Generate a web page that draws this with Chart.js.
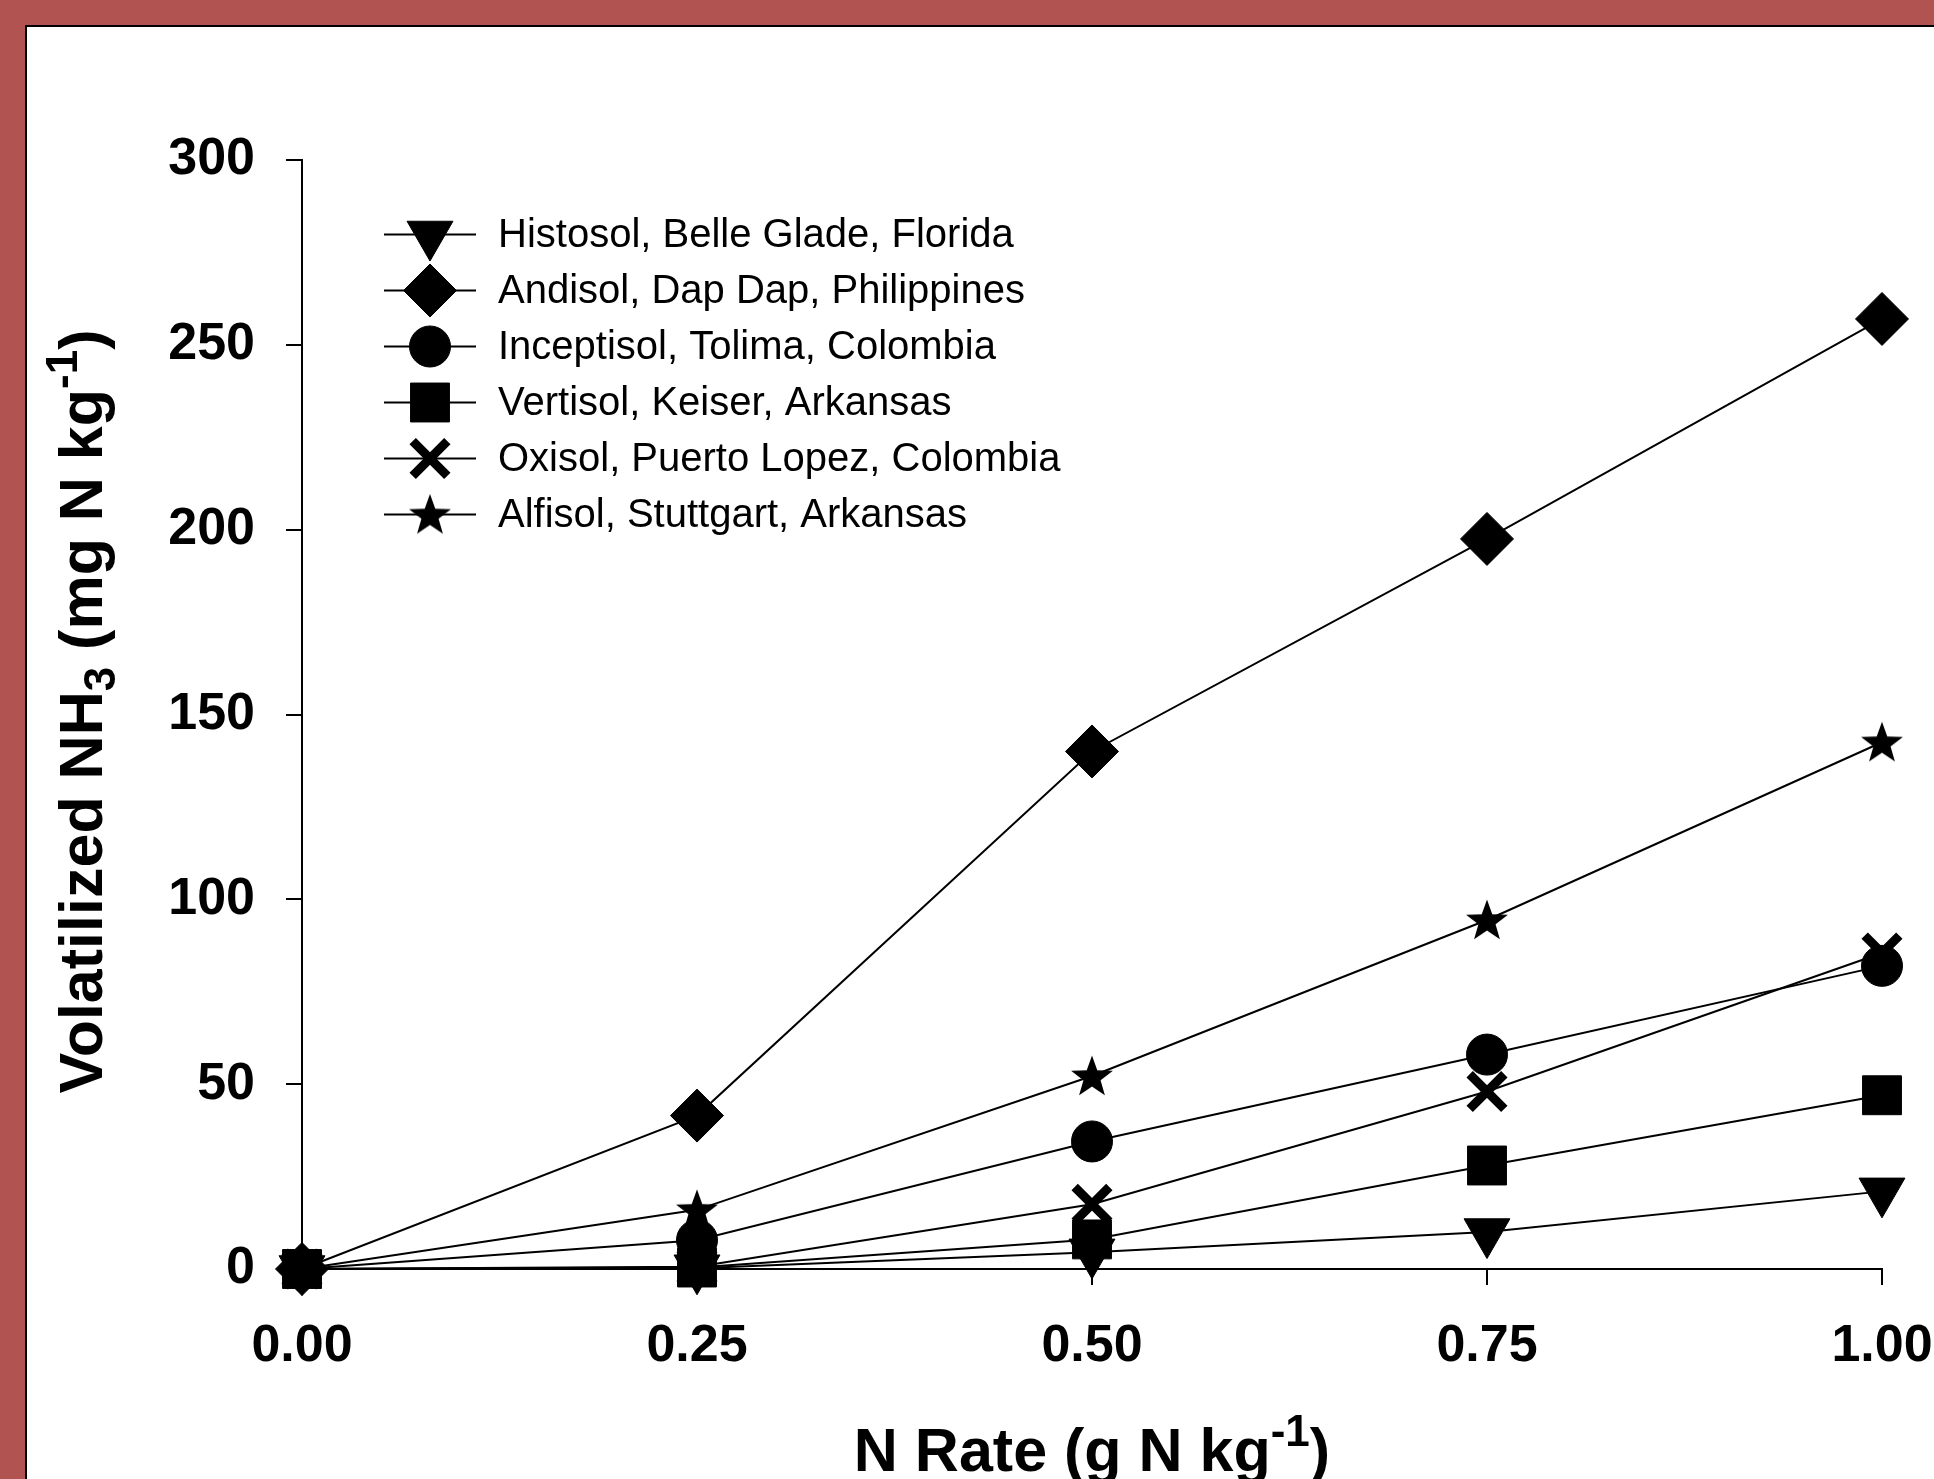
<!DOCTYPE html>
<html><head><meta charset="utf-8">
<script src="https://cdn.jsdelivr.net/npm/chart.js@4.4.1/dist/chart.umd.min.js"></script>
<style>
html,body{margin:0;padding:0;width:1934px;height:1479px;overflow:hidden;background:#b05351;}
#frame{position:absolute;left:25px;top:25px;width:1930px;height:1470px;background:#fff;border-top:2px solid #000;border-left:2px solid #000;}
#c{position:absolute;left:0;top:0;}
</style></head><body>
<div id="frame"></div>
<canvas id="c" width="1934" height="1479"></canvas>
<script>
// ---- data ----
const xValues = [0, 0.25, 0.5, 0.75, 1.0];
const xTickLabels = ['0.00', '0.25', '0.50', '0.75', '1.00'];
const yTickValues = [0, 50, 100, 150, 200, 250, 300];
const seriesNames = [
  'Histosol, Belle Glade, Florida',
  'Andisol, Dap Dap, Philippines',
  'Inceptisol, Tolima, Colombia',
  'Vertisol, Keiser, Arkansas',
  'Oxisol, Puerto Lopez, Colombia',
  'Alfisol, Stuttgart, Arkansas'
];
const histosol   = [0, 0.2, 4.5, 10, 21];
const andisol    = [0, 41.5, 140, 197.5, 257];
const inceptisol = [0, 7.8, 34.5, 58, 82];
const vertisol   = [0, 0.4, 8, 28, 47];
const oxisol     = [0, 0.6, 17.5, 48, 85.5];
const alfisol    = [0, 16, 52.2, 94.4, 142.5];
const seriesValues = [histosol, andisol, inceptisol, vertisol, oxisol, alfisol];

// ---- marker styles ----
function makeStar(outer, inner) {
  const s = Math.ceil(outer * 2 + 4);
  const cv = document.createElement('canvas');
  cv.width = s; cv.height = s;
  const g = cv.getContext('2d');
  g.fillStyle = '#000';
  g.beginPath();
  for (let i = 0; i < 10; i++) {
    const r = i % 2 === 0 ? outer : inner;
    const a = -Math.PI / 2 + i * Math.PI / 5;
    const px = s / 2 + r * Math.cos(a), py = s / 2 + 1.5 + r * Math.sin(a);
    if (i === 0) g.moveTo(px, py); else g.lineTo(px, py);
  }
  g.closePath(); g.fill();
  return cv;
}
const starImg = makeStar(22, 9);
const markers = [
  {pointStyle: 'triangle', radius: 26.5, rotation: 180, borderWidth: 1},
  {pointStyle: 'rectRot', radius: 26.5, rotation: 0, borderWidth: 1},
  {pointStyle: 'circle', radius: 20.5, rotation: 0, borderWidth: 1},
  {pointStyle: 'rect', radius: 27.5, rotation: 0, borderWidth: 1},
  {pointStyle: 'crossRot', radius: 24.5, rotation: 0, borderWidth: 9},
  {pointStyle: starImg, radius: 22, rotation: 0, borderWidth: 0}
];

const datasets = seriesNames.map((name, i) => ({
  label: name,
  data: xValues.map((x, j) => ({x: x, y: seriesValues[i][j]})),
  borderColor: '#000',
  borderWidth: 2,
  backgroundColor: '#000',
  pointBackgroundColor: '#000',
  pointBorderColor: '#000',
  pointStyle: markers[i].pointStyle,
  pointRadius: markers[i].radius,
  pointRotation: markers[i].rotation,
  pointBorderWidth: markers[i].borderWidth,
  pointHoverRadius: markers[i].radius,
  tension: 0,
  clip: false
}));

const FONT = "'Liberation Sans', Arial, Helvetica, sans-serif";
Chart.defaults.font.family = FONT;
Chart.defaults.color = '#000';

// ---- custom legend + rich-text axis titles ----
const extras = {
  id: 'extras',
  afterDraw(chart) {
    const ctx = chart.ctx;
    const ca = chart.chartArea;
    ctx.save();
    // legend
    seriesNames.forEach((name, i) => {
      const y = 234.5 + i * 56;
      ctx.strokeStyle = '#000';
      ctx.lineWidth = 2;
      ctx.beginPath(); ctx.moveTo(384, y); ctx.lineTo(476, y); ctx.stroke();
      ctx.fillStyle = '#000';
      ctx.strokeStyle = '#000';
      ctx.lineWidth = markers[i].borderWidth;
      Chart.helpers.drawPoint(ctx, {
        pointStyle: markers[i].pointStyle, radius: markers[i].radius,
        rotation: markers[i].rotation, borderWidth: markers[i].borderWidth
      }, 430, y);
      ctx.font = '40px ' + FONT;
      ctx.textBaseline = 'middle';
      ctx.textAlign = 'left';
      ctx.fillStyle = '#000';
      ctx.fillText(name, 498, y + 1);
    });

    // rich text helper: parts = [[text, kind]], kind: n / sub / sup
    function drawRich(parts, cx, baseY) {
      const big = 'bold 61px ' + FONT, small = 'bold 44px ' + FONT;
      let total = 0;
      parts.forEach(p => { ctx.font = p[1] === 'n' ? big : small; total += ctx.measureText(p[0]).width; });
      let x = cx - total / 2;
      ctx.textAlign = 'left';
      ctx.textBaseline = 'alphabetic';
      parts.forEach(p => {
        ctx.font = p[1] === 'n' ? big : small;
        const dy = p[1] === 'sub' ? 13 : (p[1] === 'sup' ? -25 : 0);
        ctx.fillText(p[0], x, baseY + dy);
        x += ctx.measureText(p[0]).width;
      });
    }
    ctx.fillStyle = '#000';
    // x title
    drawRich([['N Rate (g N kg', 'n'], ['-1', 'sup'], [')', 'n']], (ca.left + ca.right) / 2, 1471);
    // y title
    ctx.save();
    ctx.translate(102, (ca.top + ca.bottom) / 2 - 3);
    ctx.rotate(-Math.PI / 2);
    drawRich([['Volatilized NH', 'n'], ['3', 'sub'], [' (mg N kg', 'n'], ['-1', 'sup'], [')', 'n']], 0, 0);
    ctx.restore();
    ctx.restore();
  }
};

new Chart(document.getElementById('c'), {
  type: 'line',
  data: {datasets},
  options: {
    responsive: false,
    animation: false,
    devicePixelRatio: 1,
    events: [],
    layout: {padding: {left: 0, top: 160, right: 52, bottom: 0}},
    plugins: {legend: {display: false}, tooltip: {enabled: false}, title: {display: false}},
    scales: {
      x: {
        type: 'linear', min: 0, max: 1,
        afterFit(s) { s.height = 210; s.paddingLeft = 0; s.paddingRight = 0; },
        afterBuildTicks(s) { s.ticks = xValues.map(v => ({value: v})); },
        grid: {drawOnChartArea: false, drawTicks: true, tickLength: 16, color: '#000', lineWidth: 2},
        border: {display: true, color: '#000', width: 2},
        ticks: {
          padding: 30, color: '#000', maxRotation: 0, autoSkip: false,
          font: {size: 52, weight: 'bold', family: FONT},
          callback: (v) => { const k = xValues.indexOf(v); return k >= 0 ? xTickLabels[k] : ''; }
        }
      },
      y: {
        type: 'linear', min: 0, max: 300,
        afterFit(s) { s.width = 302; s.paddingTop = 0; s.paddingBottom = 0; },
        afterBuildTicks(s) { s.ticks = yTickValues.map(v => ({value: v})); },
        grid: {drawOnChartArea: false, drawTicks: true, tickLength: 16, color: '#000', lineWidth: 2},
        border: {display: true, color: '#000', width: 2},
        ticks: {
          padding: 31, color: '#000',
          font: {size: 52, weight: 'bold', family: FONT},
          callback: (v) => String(v)
        }
      }
    }
  },
  plugins: [extras]
});
</script>
</body></html>
